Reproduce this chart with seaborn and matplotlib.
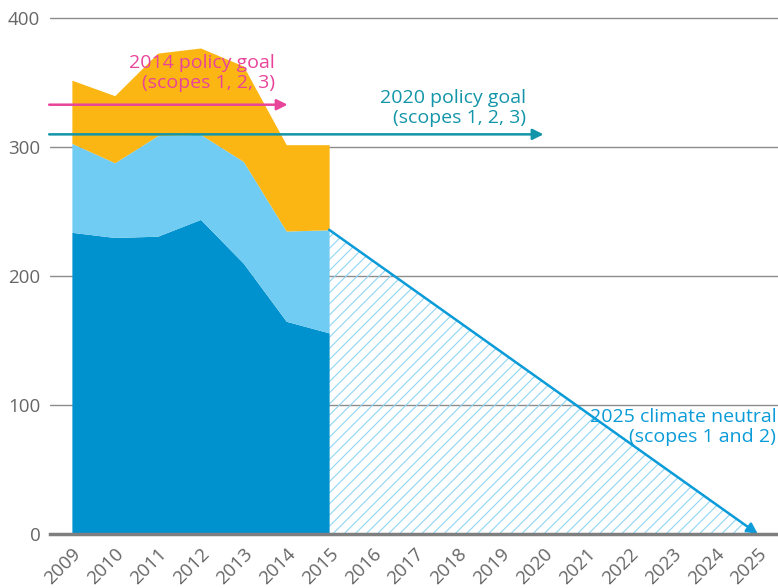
import matplotlib
matplotlib.use("Agg")
import matplotlib.pyplot as plt
import seaborn as sns
import pandas as pd

# emissions per scope
years = [2009, 2010, 2011, 2012, 2013, 2014, 2015]
scope1 = [234, 230, 231, 244, 210, 165, 156]
scope2 = [69, 58, 78, 66, 79, 70, 80]
scope3 = [49, 52, 64, 67, 74, 67, 66]

# path to climate neutral
target_years = [2015, 2025]
target_values = [236, 0]

goal_2014 = 333
goal_2020 = 310

all_years = list(range(2009, 2026))
y_ticks = [0, 100, 200, 300, 400]

df = pd.DataFrame({"year": years, "scope1": scope1, "scope2": scope2, "scope3": scope3})

sns.set_style("white")
plt.rcParams["font.family"] = ["Open Sans", "DejaVu Sans"]
plt.rcParams["hatch.linewidth"] = 0.8

colors = ["#0091cf", "#70ccf2", "#fbb614"]
grey = "#7f7f7f"

fig = plt.figure(figsize=(7.78, 5.88), dpi=100)
ax = fig.add_axes([0.0643, 0.0918, 0.9357, 0.888])

ax.stackplot(df["year"], df["scope1"], df["scope2"], df["scope3"], colors=colors, linewidth=0, zorder=2)

# hatched target area
ax.fill_between(target_years, target_values, 0, facecolor="none", edgecolor="#8fd6f3",
                hatch="///", linewidth=0, zorder=1)

# arrows
ax.annotate("", xy=(2014.03, goal_2014), xytext=(2008.47, goal_2014),
            arrowprops=dict(arrowstyle="-|>", color="#e8449a", lw=1.8, mutation_scale=16,
                            shrinkA=0, shrinkB=0), zorder=4)
ax.annotate("", xy=(2020.0, goal_2020), xytext=(2008.47, goal_2020),
            arrowprops=dict(arrowstyle="-|>", color="#1295a8", lw=1.8, mutation_scale=16,
                            shrinkA=0, shrinkB=0), zorder=4)
ax.annotate("", xy=(target_years[1], target_values[1]), xytext=(target_years[0], target_values[0]),
            arrowprops=dict(arrowstyle="-|>", color="#0a9bd8", lw=1.8, mutation_scale=16,
                            shrinkA=0, shrinkB=0), zorder=4)

ax.text(2013.73, 357.5, "2014 policy goal\n(scopes 1, 2, 3)", color="#e8449a", fontsize=14,
        ha="right", va="center", multialignment="right", linespacing=1.15, zorder=5)
ax.text(2019.6, 330.5, "2020 policy goal\n(scopes 1, 2, 3)", color="#1295a8", fontsize=14,
        ha="right", va="center", multialignment="right", linespacing=1.15, zorder=5)
ax.text(2025.43, 83, "2025 climate neutral\n(scopes 1 and 2)", color="#0a9bd8", fontsize=14,
        ha="right", va="center", multialignment="right", linespacing=1.15, zorder=5)

ax.set_xlim(2008.49, 2025.47)
ax.set_ylim(0, 405)
ax.set_xticks(all_years)
ax.set_xticklabels([str(y) for y in all_years], rotation=45, ha="right", rotation_mode="anchor")
ax.set_yticks(y_ticks)

ax.yaxis.grid(True, color="#8c8c8c", linewidth=1)
ax.set_axisbelow(True)
ax.tick_params(axis="x", direction="in", length=9, width=1.2, color=grey, labelcolor="#666666",
               labelsize=13.5, pad=8)
ax.tick_params(axis="y", length=0, labelcolor="#666666", labelsize=13.5, pad=7)

sns.despine(ax=ax, left=True, top=True, right=True)
ax.spines["bottom"].set_color(grey)
ax.spines["bottom"].set_linewidth(2.5)
ax.spines["bottom"].set_zorder(6)

fig.savefig("out.png", dpi=100)
